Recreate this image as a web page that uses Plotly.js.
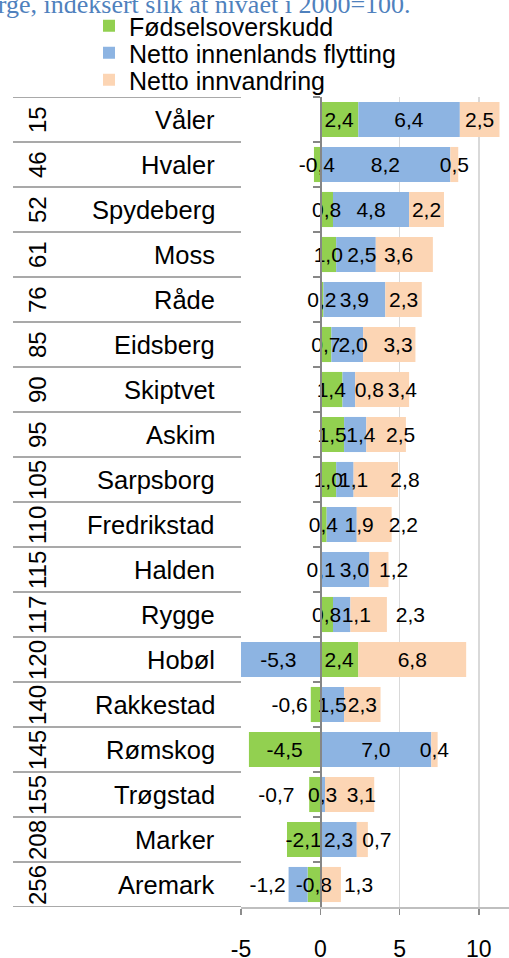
<!DOCTYPE html>
<html><head><meta charset="utf-8">
<script src="https://cdn.plot.ly/plotly-3.0.1.min.js"></script>
<style>html,body{margin:0;padding:0;background:#fff;} #chart{width:509px;height:958px;}</style>
</head><body><div id="chart"></div>
<script>
// ---------- data ----------
const ranks = ['15','46','52','61','76','85','90','95','105','110','115','117','120','140','145','155','208','256'];
const kommuner = ['Våler','Hvaler','Spydeberg','Moss','Råde','Eidsberg','Skiptvet','Askim','Sarpsborg','Fredrikstad','Halden','Rygge','Hobøl','Rakkestad','Rømskog','Trøgstad','Marker','Aremark'];
const fodselsoverskudd   = [2.4,-0.4,0.8,1.0,0.2,0.7,1.4,1.5,1.0,0.4,0.1,0.8,2.4,-0.6,-4.5,-0.7,-2.1,-0.8];
const innenlandsFlytting = [6.4,8.2,4.8,2.5,3.9,2.0,0.8,1.4,1.1,1.9,3.0,1.1,-5.3,1.5,7.0,0.3,2.3,-1.2];
const innvandring        = [2.5,0.5,2.2,3.6,2.3,3.3,3.4,2.5,2.8,2.2,1.2,2.3,6.8,2.3,0.4,3.1,0.7,1.3];
const seriesNames = ['Fødselsoverskudd','Netto innenlands flytting','Netto innvandring'];
const xTickVals = [-5,0,5,10];
const xTickText = ['-5','0','5','10'];
const titleText = 'Norge, indeksert slik at nivået i 2000=100.';

// ---------- style ----------
const FONT = '"Liberation Sans", Arial, sans-serif';
const SERIF = '"Liberation Serif", "Times New Roman", serif';
const W = 509, H = 958, ML = 241, MR = 0, MT = 97, MB = 51;
const X_MIN = -5, X_MAX = 11.9;
const plotW = W - ML - MR, plotH = H - MT - MB;
const pxX = px => (px - ML) / plotW;
const pxY = py => (H - MB - py) / plotH;
const LABEL_SIZE = 21;
const fmt = v => v.toFixed(1).replace('.', ',');
const colors = ['#92d050', '#8db4e2', '#fcd5b4'];
// which data labels sit outside their bar segment
const outsideLabels = [[13, 15], [17], [11, 17]];
// small horizontal nudges (px) of data labels, as in the reference (avoid overlapping labels)
const labelShiftPx = [
  {15: -12},
  {3: 7, 5: 6, 6: 20, 7: 6, 8: 8, 9: 18, 10: 10, 11: 15},
  {3: -6, 5: 9, 6: 21, 7: 16, 8: 28, 9: 29, 10: 15, 11: 7, 15: 12, 16: 16}
];
const seriesValues = [fodselsoverskudd, innenlandsFlytting, innvandring];

const NBSP = '\u00a0';
const SPACE_W = 0.278 * LABEL_SIZE;
function labelText(v, shift, outside) {
  const t = fmt(v);
  if (!shift) return t;
  const n = Math.round(Math.abs(shift) / (outside ? SPACE_W : SPACE_W / 2));
  return shift > 0 ? NBSP.repeat(n) + t : t + NBSP.repeat(n);
}

const data = [];
// visible bars
seriesValues.forEach((vals, k) => {
  data.push({
    type: 'bar', orientation: 'h', name: seriesNames[k], x: vals, y: kommuner,
    marker: {color: colors[k], line: {width: 0}}, textposition: 'none',
    legend: k === 0 ? 'legend' : 'legend' + (k + 1), hoverinfo: 'skip'
  });
});
// label layer (same stack on an overlaid axis so labels sit above every bar)
seriesValues.forEach((vals, k) => {
  const isOut = i => outsideLabels[k].includes(i);
  data.push({
    type: 'bar', orientation: 'h', name: seriesNames[k], x: vals, y: kommuner, xaxis: 'x2',
    marker: {color: 'rgba(0,0,0,0)', line: {width: 0}},
    text: vals.map((v, i) => labelText(v, labelShiftPx[k][i], isOut(i))),
    textposition: vals.map((v, i) => isOut(i) ? 'outside' : 'inside'),
    insidetextanchor: 'middle', textangle: 0, constraintext: 'none',
    textfont: {family: FONT, size: LABEL_SIZE, color: '#000'},
    showlegend: false, hoverinfo: 'skip'
  });
});

const annotations = [];
kommuner.forEach((name, i) => {
  annotations.push({xref: 'paper', yref: 'y', x: pxX(217), y: i, text: name, showarrow: false,
    xanchor: 'right', yanchor: 'middle', font: {family: FONT, size: 25.5, color: '#000'}});
  annotations.push({xref: 'paper', yref: 'y', x: pxX(37.5), y: i, text: ranks[i], showarrow: false,
    textangle: -90, xanchor: 'center', yanchor: 'middle', font: {family: FONT, size: 24, color: '#000'}});
});
annotations.push({xref: 'paper', yref: 'paper', x: pxX(413), y: pxY(21), text: titleText, showarrow: false,
  xanchor: 'right', yanchor: 'bottom', font: {family: SERIF, size: 26, color: '#4f81bd'}});

const shapes = [];
for (let i = 0; i <= kommuner.length; i++) {
  shapes.push({type: 'line', xref: 'paper', yref: 'y', x0: pxX(13), x1: 0, y0: i - 0.5, y1: i - 0.5,
    line: {color: '#8c8c8c', width: 1.5}});
}

const legendBase = {xref: 'container', yref: 'container', x: 89 / W, xanchor: 'left', yanchor: 'middle',
  font: {family: FONT, size: 25, color: '#000'}, bgcolor: 'rgba(0,0,0,0)', borderwidth: 0,
  itemclick: false, itemdoubleclick: false};

const layout = {
  width: W, height: H, margin: {l: ML, r: MR, t: MT, b: MB, pad: 0, autoexpand: false},
  barmode: 'relative', bargap: 0.22,
  paper_bgcolor: '#fff', plot_bgcolor: '#fff',
  font: {family: FONT, color: '#000'},
  uniformtext: {mode: 'show', minsize: LABEL_SIZE},
  showlegend: true,
  legend: Object.assign({}, legendBase, {y: 1 - 26 / H}),
  legend2: Object.assign({}, legendBase, {y: 1 - 53 / H}),
  legend3: Object.assign({}, legendBase, {y: 1 - 80 / H}),
  xaxis: {range: [X_MIN, X_MAX], tickmode: 'array', tickvals: xTickVals, ticktext: xTickText,
    showgrid: true, gridcolor: '#d9d9d9', gridwidth: 1.5, zeroline: false,
    showline: true, linecolor: '#bfbfbf', linewidth: 1.5,
    ticks: 'outside', ticklen: 6, tickcolor: '#8c8c8c', tickwidth: 1.5,
    tickfont: {family: FONT, size: 23, color: '#000'}, ticklabelstandoff: 15, fixedrange: true, automargin: false},
  xaxis2: {overlaying: 'x', matches: 'x', range: [X_MIN, X_MAX], visible: false, fixedrange: true},
  yaxis: {type: 'category', categoryorder: 'array', categoryarray: kommuner, range: [kommuner.length - 0.5, -0.5],
    anchor: 'free', position: (0 - X_MIN) / (X_MAX - X_MIN),
    showline: true, linecolor: '#868686', linewidth: 1.5,
    ticks: 'outside', tickson: 'boundaries', ticklen: 7, tickcolor: '#868686', tickwidth: 1.5,
    showticklabels: false, showgrid: false, zeroline: false, fixedrange: true, automargin: false},
  annotations: annotations,
  shapes: shapes
};

Plotly.newPlot('chart', data, layout, {staticPlot: true, displayModeBar: false});
</script>
</body></html>
